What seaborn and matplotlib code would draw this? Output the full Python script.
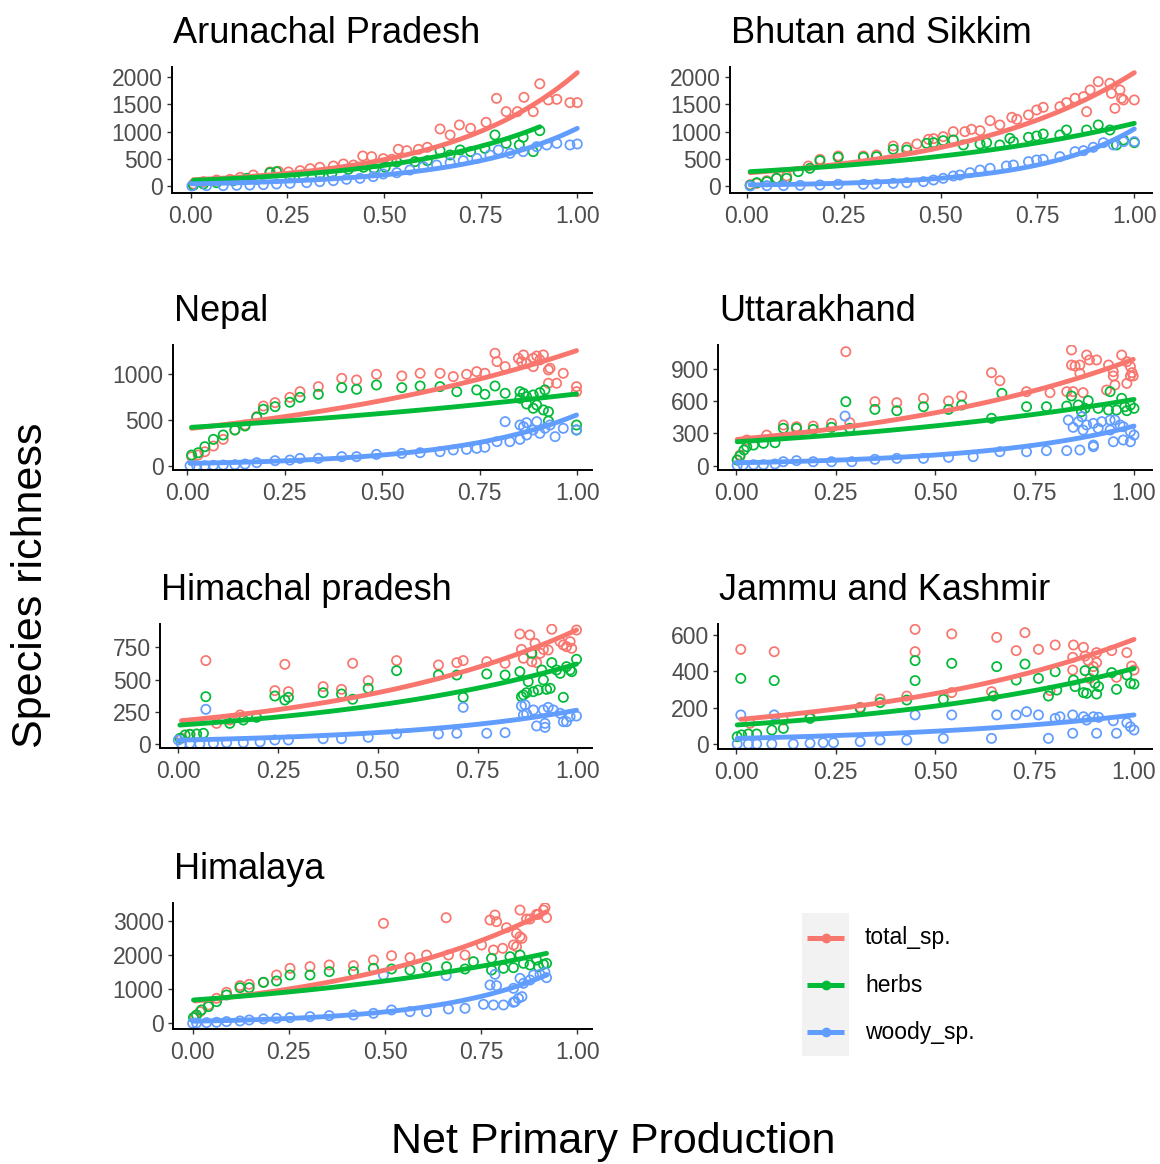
import numpy as np
import pandas as pd
import matplotlib
matplotlib.use("Agg")
import matplotlib.pyplot as plt
from matplotlib.patches import Rectangle
import seaborn as sns

sns.set_theme(style="white")
plt.rcParams["font.family"] = ["Liberation Sans", "DejaVu Sans"]

# ---------------- data ----------------
series_names = ["total_sp.", "herbs", "woody_sp."]
series_colors = ["#F8766D", "#00BA38", "#619CFF"]
x_ticks = [0.0, 0.25, 0.5, 0.75, 1.0]
x_tick_labels = ["0.00", "0.25", "0.50", "0.75", "1.00"]

# Arunachal Pradesh
aru_total_x = [0.007,0.033,0.067,0.102,0.128,0.162,0.205,0.227,0.253,0.283,0.309,0.334,0.369,0.395,0.421,0.445,0.468,0.498,0.520,0.537,0.559,0.589,0.612,0.645,0.671,0.695,0.724,0.764,0.791,0.816,0.845,0.862,0.886,0.903,0.925,0.947,0.981,1.000]
aru_total_y = [37,80,110,123,160,202,258,270,258,282,319,344,368,405,386,552,540,503,491,675,650,675,712,1049,939,1123,1061,1172,1613,1368,1368,1632,1368,1880,1583,1595,1534,1534]
aru_herbs_x = [0.007,0.033,0.067,0.110,0.145,0.171,0.205,0.222,0.257,0.291,0.334,0.365,0.408,0.447,0.474,0.503,0.533,0.580,0.612,0.645,0.671,0.697,0.724,0.761,0.787,0.816,0.850,0.860,0.886,0.903]
aru_herbs_y = [12,37,61,98,141,123,245,264,160,184,221,233,307,344,325,344,442,448,466,650,571,663,632,693,939,785,755,896,632,1018]
aru_woody_x = [0.003,0.041,0.084,0.119,0.153,0.188,0.222,0.257,0.300,0.334,0.369,0.403,0.438,0.472,0.498,0.533,0.567,0.602,0.636,0.671,0.705,0.740,0.774,0.796,0.826,0.860,0.895,0.921,0.947,0.981,1.000]
aru_woody_y = [0,6,6,12,18,25,37,49,61,80,98,123,141,172,221,245,294,356,386,429,466,509,571,663,601,632,724,755,785,755,773]
aru_fit_start = [115, 105, 40]
aru_fit_end = [2086, 1090, 1061]

# Bhutan and Sikkim
bhu_total_x = [0.009,0.026,0.052,0.077,0.103,0.159,0.189,0.236,0.301,0.335,0.378,0.413,0.439,0.469,0.482,0.507,0.533,0.563,0.580,0.602,0.628,0.653,0.684,0.697,0.727,0.748,0.765,0.808,0.825,0.847,0.869,0.877,0.886,0.907,0.937,0.941,0.950,0.963,0.967,0.972,1.000]
bhu_total_y = [25,49,98,141,184,368,491,552,552,571,736,712,773,859,871,908,1000,1000,1043,1018,1202,1123,1264,1227,1307,1399,1448,1460,1534,1613,1644,1368,1767,1920,1890,1705,1429,1767,1613,1583,1583]
bhu_herbs_x = [0.009,0.026,0.052,0.077,0.103,0.133,0.163,0.189,0.236,0.301,0.335,0.378,0.413,0.464,0.482,0.507,0.533,0.559,0.602,0.619,0.653,0.679,0.688,0.727,0.748,0.765,0.808,0.825,0.877,0.907,0.937,0.954,0.972,1.000]
bhu_herbs_y = [12,61,80,141,141,264,325,466,528,528,540,675,663,785,797,834,847,755,773,797,755,877,816,896,920,957,939,1030,1030,1123,1030,755,847,797]
bhu_woody_x = [0.009,0.052,0.095,0.138,0.189,0.236,0.301,0.335,0.378,0.413,0.456,0.482,0.507,0.533,0.550,0.576,0.602,0.628,0.670,0.688,0.727,0.748,0.765,0.808,0.847,0.869,0.894,0.920,0.946,0.972,1.000]
bhu_woody_y = [0,6,6,12,18,31,31,37,49,61,80,110,141,184,202,245,294,325,368,386,448,479,491,540,632,650,712,797,755,816,816]
bhu_fit_start = [245, 264, 20]
bhu_fit_end = [2086, 1153, 1050]

# Nepal
nep_total_x = [0.011,0.028,0.045,0.067,0.092,0.122,0.148,0.178,0.195,0.225,0.263,0.289,0.336,0.396,0.434,0.485,0.550,0.597,0.648,0.682,0.716,0.742,0.763,0.789,0.794,0.815,0.849,0.857,0.862,0.870,0.887,0.887,0.896,0.904,0.913,0.926,0.926,0.930,0.947,0.964,0.998,0.998]
nep_total_y = [99,117,153,215,288,391,445,537,653,690,748,810,865,956,938,1000,982,1011,1011,975,1000,1029,1011,1230,1139,1084,1175,1139,1212,1120,1175,1084,1200,1157,1212,1048,902,1066,902,1011,865,810]
nep_herbs_x = [0.011,0.028,0.045,0.067,0.092,0.122,0.148,0.178,0.195,0.225,0.263,0.289,0.336,0.396,0.434,0.485,0.550,0.597,0.648,0.691,0.742,0.763,0.789,0.815,0.853,0.853,0.862,0.870,0.870,0.887,0.887,0.896,0.904,0.913,0.917,0.926,0.926,0.998,0.998]
nep_herbs_y = [117,142,208,288,336,391,434,529,617,646,694,748,781,854,836,883,854,872,865,810,829,781,872,792,810,737,792,756,675,774,628,664,799,610,829,591,489,445,391]
nep_woody_x = [0.007,0.024,0.045,0.067,0.092,0.122,0.148,0.178,0.225,0.263,0.289,0.336,0.396,0.434,0.485,0.550,0.597,0.648,0.682,0.716,0.742,0.763,0.794,0.815,0.827,0.853,0.853,0.862,0.870,0.870,0.887,0.896,0.904,0.917,0.930,0.943,0.964,0.998]
nep_woody_y = [0,0,0,4,7,11,18,33,55,62,80,80,99,99,124,135,142,153,172,179,190,201,263,482,263,445,288,427,471,336,391,482,354,409,445,318,409,391]
nep_fit_start = [409, 420, 25]
nep_fit_end = [1259, 785, 555]

# Uttarakhand
utt_total_x = [0.003,0.010,0.027,0.077,0.119,0.152,0.194,0.240,0.276,0.286,0.349,0.404,0.471,0.534,0.567,0.642,0.663,0.730,0.789,0.831,0.843,0.843,0.847,0.852,0.864,0.864,0.872,0.881,0.888,0.906,0.931,0.936,0.948,0.948,0.952,0.969,0.982,0.982,0.991,0.991,0.995,0.998]
utt_total_y = [53,99,239,285,379,363,369,394,1061,400,596,587,627,602,648,866,791,689,680,689,1077,937,689,928,937,860,680,1030,984,984,704,937,875,835,751,1030,968,766,922,835,866,835]
utt_herbs_x = [0.003,0.010,0.020,0.027,0.044,0.069,0.098,0.119,0.152,0.194,0.240,0.276,0.286,0.349,0.404,0.471,0.534,0.567,0.642,0.668,0.730,0.780,0.831,0.843,0.860,0.868,0.877,0.885,0.910,0.936,0.940,0.956,0.969,0.977,0.982,0.991,1.000]
utt_herbs_y = [53,90,146,177,192,208,214,348,348,338,357,596,348,524,512,549,524,565,441,673,549,549,555,649,565,503,534,605,534,518,689,518,627,549,512,565,534]
utt_woody_x = [0.003,0.018,0.044,0.069,0.098,0.119,0.152,0.194,0.240,0.274,0.291,0.349,0.404,0.471,0.534,0.596,0.663,0.730,0.780,0.831,0.835,0.847,0.860,0.864,0.869,0.872,0.881,0.898,0.898,0.898,0.910,0.919,0.940,0.940,0.948,0.952,0.965,0.973,0.973,0.991,0.991,1.000]
utt_woody_y = [3,6,9,9,16,37,47,37,37,462,37,59,68,68,78,84,130,130,140,140,425,357,410,146,456,332,379,394,192,177,348,410,425,332,223,425,379,363,239,317,223,285]
utt_fit_start = [245, 223, 27]
utt_fit_end = [990, 617, 369]

# Himachal pradesh
him_total_x = [0.008,0.029,0.069,0.096,0.129,0.155,0.242,0.267,0.276,0.363,0.409,0.437,0.476,0.547,0.652,0.698,0.714,0.773,0.819,0.856,0.860,0.865,0.881,0.886,0.894,0.898,0.907,0.915,0.927,0.936,0.957,0.965,0.973,0.982,0.986,0.998]
him_total_y = [44,75,647,160,186,225,414,618,406,445,424,626,491,647,613,631,647,639,626,853,734,665,846,639,781,631,703,734,729,890,794,768,755,794,742,884]
him_herbs_x = [0.004,0.017,0.029,0.046,0.063,0.069,0.129,0.163,0.196,0.242,0.267,0.276,0.363,0.409,0.437,0.476,0.547,0.652,0.698,0.714,0.773,0.819,0.856,0.860,0.865,0.873,0.877,0.886,0.890,0.902,0.911,0.915,0.923,0.932,0.936,0.948,0.957,0.965,0.973,0.982,0.986,0.998]
him_herbs_y = [44,70,75,78,83,367,160,186,207,372,341,362,398,388,347,432,569,535,535,362,543,535,561,367,380,398,484,703,406,419,574,497,424,432,631,574,548,362,600,574,561,657]
him_woody_x = [0.000,0.008,0.029,0.054,0.069,0.088,0.121,0.163,0.205,0.242,0.276,0.363,0.409,0.476,0.547,0.652,0.698,0.714,0.773,0.819,0.860,0.865,0.869,0.873,0.890,0.898,0.915,0.919,0.919,0.927,0.940,0.957,0.965,0.973,0.982,0.998]
him_woody_y = [31,0,5,0,269,5,10,10,16,31,31,41,41,52,78,78,83,284,83,88,295,225,303,233,264,140,264,160,129,284,264,238,173,173,212,217]
him_fit_start = [181, 147, 30]
him_fit_end = [884, 620, 262]

# Jammu and Kashmir
jk_total_x = [0.012,0.035,0.096,0.119,0.186,0.312,0.362,0.429,0.450,0.450,0.542,0.542,0.642,0.655,0.704,0.726,0.760,0.789,0.802,0.846,0.846,0.848,0.873,0.877,0.885,0.889,0.898,0.906,0.906,0.944,0.956,0.982,0.994,1.000]
jk_total_y = [521,114,508,132,150,202,248,264,631,508,606,283,288,587,514,613,521,294,545,477,407,545,532,484,459,361,426,448,503,514,367,503,429,407]
jk_herbs_x = [0.003,0.012,0.014,0.031,0.052,0.090,0.096,0.119,0.186,0.312,0.362,0.429,0.450,0.450,0.521,0.542,0.647,0.655,0.704,0.726,0.760,0.785,0.802,0.806,0.848,0.852,0.873,0.877,0.881,0.898,0.902,0.906,0.911,0.944,0.956,0.982,0.991,1.000]
jk_herbs_y = [40,361,50,55,55,77,349,86,141,196,228,242,459,349,246,444,264,426,352,440,361,264,398,297,352,316,283,404,279,398,334,275,316,393,301,380,334,330]
jk_woody_x = [0.003,0.012,0.031,0.052,0.090,0.096,0.144,0.186,0.219,0.245,0.312,0.362,0.429,0.450,0.521,0.542,0.642,0.655,0.704,0.730,0.760,0.785,0.802,0.814,0.846,0.846,0.873,0.881,0.898,0.906,0.911,0.948,0.956,0.982,0.991,1.000]
jk_woody_y = [0,160,0,0,0,160,0,4,7,7,13,22,22,160,31,160,31,160,160,178,160,31,141,150,160,59,150,132,150,59,147,128,59,117,95,77]
jk_fit_start = [136, 105, 31]
jk_fit_end = [576, 416, 160]

# Himalaya
hml_total_x = [0.006,0.019,0.041,0.062,0.088,0.123,0.147,0.184,0.218,0.253,0.305,0.355,0.418,0.470,0.496,0.517,0.565,0.608,0.659,0.665,0.708,0.751,0.773,0.782,0.786,0.790,0.806,0.816,0.834,0.842,0.842,0.851,0.851,0.856,0.868,0.877,0.894,0.899,0.912,0.916,0.920]
hml_total_y = [195,341,536,731,906,1101,1140,1198,1412,1607,1656,1705,1685,1851,2922,1977,1919,1997,3088,1997,1997,2289,3020,2143,3166,2971,2192,2795,2289,2630,2240,3312,2532,2484,3049,3049,3185,3185,3312,3380,3088]
hml_herbs_x = [0.002,0.010,0.023,0.041,0.062,0.088,0.123,0.147,0.184,0.218,0.253,0.305,0.355,0.418,0.470,0.517,0.565,0.608,0.660,0.708,0.730,0.777,0.777,0.808,0.825,0.834,0.851,0.860,0.877,0.894,0.899,0.912,0.920]
hml_herbs_y = [166,244,390,487,633,828,1042,1042,1198,1237,1412,1412,1510,1510,1607,1588,1558,1627,1656,1588,1802,1899,1558,1607,1948,1627,1997,1753,1705,1851,1656,1724,1753]
hml_woody_x = [0.000,0.010,0.036,0.062,0.088,0.123,0.147,0.184,0.218,0.253,0.305,0.355,0.418,0.470,0.496,0.517,0.565,0.608,0.659,0.665,0.708,0.756,0.773,0.782,0.786,0.790,0.808,0.834,0.834,0.838,0.847,0.851,0.856,0.860,0.877,0.886,0.903,0.916,0.920]
hml_woody_y = [0,10,19,29,49,68,97,127,146,166,195,224,244,292,1412,390,341,341,1393,419,438,555,1120,536,1432,1101,536,1023,614,633,731,1315,779,1169,1266,1412,1432,1490,1334]
hml_fit_start = [653, 682, 60]
hml_fit_end = [3263, 2045, 1412]

region_titles = ["Arunachal Pradesh", "Bhutan and Sikkim", "Nepal", "Uttarakhand",
                 "Himachal pradesh", "Jammu and Kashmir", "Himalaya"]
region_y_ticks = [[0, 500, 1000, 1500, 2000], [0, 500, 1000, 1500, 2000], [0, 500, 1000],
                  [0, 300, 600, 900], [0, 250, 500, 750], [0, 200, 400, 600],
                  [0, 1000, 2000, 3000]]

region_points = [
    [(aru_total_x, aru_total_y), (aru_herbs_x, aru_herbs_y), (aru_woody_x, aru_woody_y)],
    [(bhu_total_x, bhu_total_y), (bhu_herbs_x, bhu_herbs_y), (bhu_woody_x, bhu_woody_y)],
    [(nep_total_x, nep_total_y), (nep_herbs_x, nep_herbs_y), (nep_woody_x, nep_woody_y)],
    [(utt_total_x, utt_total_y), (utt_herbs_x, utt_herbs_y), (utt_woody_x, utt_woody_y)],
    [(him_total_x, him_total_y), (him_herbs_x, him_herbs_y), (him_woody_x, him_woody_y)],
    [(jk_total_x, jk_total_y), (jk_herbs_x, jk_herbs_y), (jk_woody_x, jk_woody_y)],
    [(hml_total_x, hml_total_y), (hml_herbs_x, hml_herbs_y), (hml_woody_x, hml_woody_y)],
]
region_fits = [(aru_fit_start, aru_fit_end), (bhu_fit_start, bhu_fit_end),
               (nep_fit_start, nep_fit_end), (utt_fit_start, utt_fit_end),
               (him_fit_start, him_fit_end), (jk_fit_start, jk_fit_end),
               (hml_fit_start, hml_fit_end)]

# ---------------- layout (pixels) ----------------
W, H = 1160, 1164
# left, right, top, bottom, px of x=0, px of x=1, (yval, px), (yval, px)
layout = [
    (171.7, 591.7, 66.7, 192.7, 190.7, 577.3, (0, 186.0), (2000, 77.3)),
    (730.0, 1151.7, 66.7, 193.3, 746.7, 1134.3, (0, 186.0), (2000, 77.3)),
    (172.7, 591.7, 345.0, 470.0, 187.3, 577.3, (0, 465.7), (1000, 374.3)),
    (718.3, 1151.7, 345.0, 470.0, 736.0, 1134.0, (0, 465.7), (900, 369.0)),
    (160.0, 591.7, 624.0, 748.3, 178.3, 577.3, (0, 744.0), (750, 647.3)),
    (718.3, 1151.7, 624.0, 749.3, 736.0, 1134.0, (0, 744.0), (600, 635.0)),
    (172.7, 591.7, 903.3, 1029.0, 192.7, 577.3, (0, 1023.3), (3000, 920.7)),
]

fig = plt.figure(figsize=(W / 100, H / 100), dpi=100)
fig.patch.set_facecolor("white")

for i, (L, R, T, B, px0, px1, (ya, pya), (yb, pyb)) in enumerate(layout):
    ax = fig.add_axes([L / W, 1 - B / H, (R - L) / W, (B - T) / H])
    ax.set_facecolor("white")
    sx = px1 - px0
    ax.set_xlim((L - px0) / sx, (R - px0) / sx)
    sy = (pya - pyb) / (yb - ya)
    ax.set_ylim(ya - (B - pya) / sy, ya + (pya - T) / sy)

    pts = region_points[i]
    starts, ends = region_fits[i]
    for k, name in enumerate(series_names):
        xs, ys = pts[k]
        df = pd.DataFrame({"x": xs, "y": ys})
        sns.scatterplot(data=df, x="x", y="y", ax=ax, marker="o", s=44,
                        facecolor="none", edgecolor=series_colors[k],
                        linewidth=1.25, zorder=2, legend=False)
    for k, name in enumerate(series_names):
        xs, _ = pts[k]
        xg = np.linspace(min(xs), max(xs), 120)
        t = (xg - xg[0]) / (xg[-1] - xg[0])
        yg = starts[k] * (ends[k] / starts[k]) ** t
        sns.lineplot(x=xg, y=yg, ax=ax, color=series_colors[k], linewidth=3.5,
                     estimator=None, sort=False, zorder=3 + k, legend=False)

    ax.set_xticks(x_ticks)
    ax.set_xticklabels(x_tick_labels)
    ax.set_yticks(region_y_ticks[i])
    ax.set_yticklabels([str(v) for v in region_y_ticks[i]])
    ax.set_xlabel("")
    ax.set_ylabel("")
    for side in ["top", "right"]:
        ax.spines[side].set_visible(False)
    for side in ["left", "bottom"]:
        ax.spines[side].set_color("black")
        ax.spines[side].set_linewidth(1.4)
    ax.tick_params(axis="both", which="major", length=3.5, width=1.0,
                   color="#333333", labelcolor="#4D4D4D", labelsize=16.5,
                   left=True, bottom=True)
    ax.tick_params(axis="x", pad=5)
    ax.tick_params(axis="y", pad=3)
    ax.grid(False)

    fig.text((L + 1.0) / W, 1 - (T - 24) / H, region_titles[i], fontsize=26,
             color="black", ha="left", va="baseline")

# axis titles
fig.text(31 / W, 1 - 585 / H, "Species richness", rotation=90, fontsize=31,
         ha="center", va="center", color="black")
fig.text(613 / W, 1 - 1153 / H, "Net Primary Production", fontsize=31,
         ha="center", va="baseline", color="black")

# legend
lax = fig.add_axes([0, 0, 1, 1])
lax.set_xlim(0, W)
lax.set_ylim(H, 0)
lax.axis("off")
lax.patch.set_alpha(0)
lax.add_patch(Rectangle((801.7, 913.3), 47.3, 142.7, facecolor="#F2F2F2",
                        edgecolor="none"))
key_y = [937.7, 985.0, 1032.3]
for k, name in enumerate(series_names):
    lax.plot([806.7, 844.3], [key_y[k], key_y[k]], color=series_colors[k],
             linewidth=3.6, solid_capstyle="butt")
    lax.plot([825.5], [key_y[k]], marker="o", markersize=6,
             color=series_colors[k])
    lax.text(865, key_y[k], name, fontsize=16.5, va="center", ha="left",
             color="black")

fig.savefig("out.png", dpi=100, facecolor="white")
